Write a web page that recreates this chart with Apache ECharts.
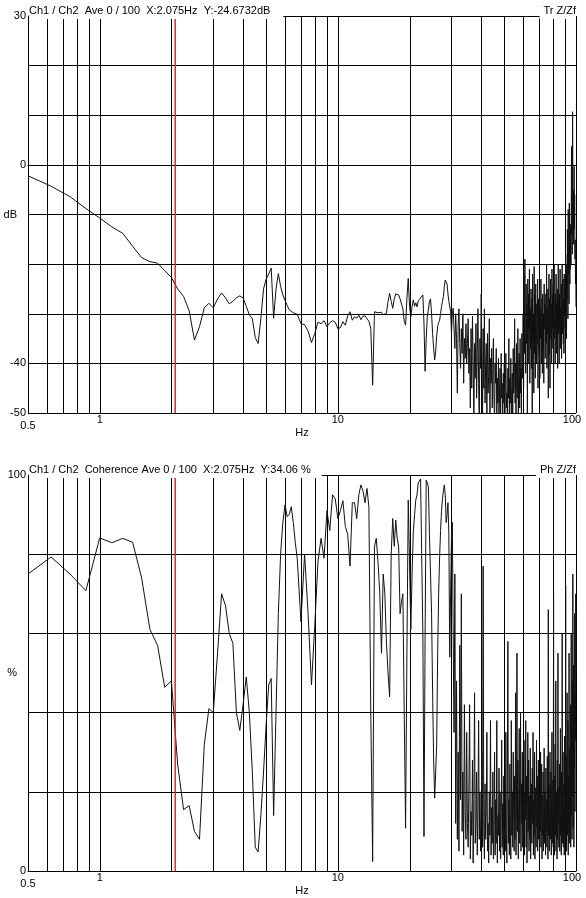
<!DOCTYPE html>
<html><head><meta charset="utf-8">
<script src="https://cdn.jsdelivr.net/npm/echarts@6/dist/echarts.min.js"></script>
<style>html,body{margin:0;padding:0;background:#fff}#c{width:586px;height:898px}</style>
</head><body><div id="c"></div>
<script>
// Frequencies (Hz)
const freqs = [
0.5,0.625,0.75,0.875,1,1.125,1.25,1.375,
1.5,1.625,1.75,1.875,2,2.125,2.25,2.375,
2.5,2.625,2.75,2.875,3,3.125,3.25,3.375,
3.5,3.625,3.75,3.875,4,4.125,4.25,4.375,
4.5,4.625,4.75,4.875,5,5.125,5.25,5.375,
5.5,5.625,5.75,5.875,6,6.125,6.25,6.375,
6.5,6.625,6.75,6.875,7,
7.25,7.5,7.75,8,8.25,8.5,8.75,9,9.25,9.5,9.75,10,
10.25,10.5,10.75,11,11.25,11.5,11.75,12,12.25,12.5,12.75,13,13.25,13.5,13.75,14,14.25,14.5,14.75,15,
15.25,15.5,15.75,16,16.25,16.5,16.75,17,17.25,17.5,17.75,18,18.25,18.5,18.75,19,19.25,19.5,19.75,20,
20.25,20.5,20.75,21,21.25,21.5,21.75,22,22.25,22.5,22.75,23,23.25,23.5,23.75,24,24.25,24.5,24.75,25,
25.25,25.5,25.75,26,26.25,26.5,26.75,27,27.25,27.5,27.75,28,28.25,28.5,28.75,29,29.25,29.5,29.75,30,
30.25,30.5,30.75,31,31.25,31.5,31.75,32,32.25,32.5,32.75,33,33.25,33.5,33.75,34,34.25,34.5,34.75,35,
35.25,35.5,35.75,36,36.25,36.5,36.75,37,37.25,37.5,37.75,38,38.25,38.5,38.75,39,39.25,39.5,39.75,40,
40.25,40.5,40.75,41,41.25,41.5,41.75,42,42.25,42.5,42.75,43,43.25,43.5,43.75,44,44.25,44.5,44.75,45,
45.25,45.5,45.75,46,46.25,46.5,46.75,47,47.25,47.5,47.75,48,48.25,48.5,48.75,49,49.25,49.5,49.75,50,
50.25,50.5,50.75,51,51.25,51.5,51.75,52,52.25,52.5,52.75,53,53.25,53.5,53.75,54,54.25,54.5,54.75,55,
55.25,55.5,55.75,56,56.25,56.5,56.75,57,57.25,57.5,57.75,58,58.25,58.5,58.75,59,59.25,59.5,59.75,60,
60.25,60.5,60.75,61,61.25,61.5,61.75,62,62.25,62.5,62.75,63,63.25,63.5,63.75,64,64.25,64.5,64.75,65,
65.25,65.5,65.75,66,66.25,66.5,66.75,67,67.25,67.5,67.75,68,68.25,68.5,68.75,69,69.25,69.5,69.75,70,
70.25,70.5,70.75,71,71.25,71.5,71.75,72,72.25,72.5,72.75,73,73.25,73.5,73.75,74,74.25,74.5,74.75,75,
75.25,75.5,75.75,76,76.25,76.5,76.75,77,77.25,77.5,77.75,78,78.25,78.5,78.75,79,79.25,79.5,79.75,80,
80.25,80.5,80.75,81,81.25,81.5,81.75,82,82.25,82.5,82.75,83,83.25,83.5,83.75,84,84.25,84.5,84.75,85,
85.25,85.5,85.75,86,86.25,86.5,86.75,87,87.25,87.5,87.75,88,88.25,88.5,88.75,89,89.25,89.5,89.75,90,
90.25,90.5,90.75,91,91.25,91.5,91.75,92,92.25,92.5,92.75,93,93.25,93.5,93.75,94,94.25,94.5,94.75,95,
95.25,95.5,95.75,96,96.25,96.5,96.75,97,97.25,97.5,97.75,98,98.25,98.5,98.75,99,99.25,99.5,99.75,100
];

// Transfer function magnitude (dB)
const transferDb = [
-2.2,-4.3,-6.4,-8.8,-10.7,-12.5,-13.8,-16.4,
-18.7,-19.5,-19.8,-21.3,-22.7,-25.0,-26.5,-29.4,
-35.3,-32.6,-28.8,-27.9,-28.8,-27.0,-25.8,-26.8,
-28.0,-27.5,-26.8,-26.4,-26.8,-28.5,-30.2,-31.0,
-34.8,-36.0,-31,-25.0,-23.0,-22.0,-20.8,-30.9,
-25,-21.9,-24.5,-26.2,-27.3,-28.3,-29.2,-29.5,
-29.8,-29.7,-30.1,-30.4,-32.0,
-32.2,-33.5,-35.8,-34.0,-31.7,-32.0,-31.4,-32.6,-31.8,-31.4,-31.7,-33.0,
-32.8,-31.6,-32.3,-30.4,-29.6,-31.3,-30.6,-30.9,-30.3,-31.2,-30.5,-30.4,-31.0,-31.5,-33,-44.4,-29.6,-30.0,-29.8,-29.6,
-29.7,-30.2,-29.8,-29.9,-27.5,-25.9,-27.5,-28.9,-27.0,-26.0,-25.8,-26.2,-27.0,-27.4,-29,-31.5,-32.3,-27,-22.9,-28.5,
-30.6,-28.5,-27.2,-28.5,-27.8,-28.6,-27.4,-27.8,-26.8,-26.5,-26.2,-32,-41.6,-35,-30.5,-29.2,-27.5,-27.0,-30,-34,
-37,-39.3,-37.5,-34.5,-32.5,-31.8,-31.3,-30,-28.5,-27.5,-26.5,-24.5,-23.2,-23.0,-24.0,-26.0,-27.5,-27.9,-29.5,-34,
-30,-28.9,-33,-37,-30,-35,-46,-32,-29,-36,-41,-33,-38,-30,-44,-35,-39,-32,-40,-36,
-31,-42,-37,-49,-33,-45,-30.5,-40,-52,-36,-43,-32,-47,-38,-29,-44,-52,-35,-41,-26,
-38,-52,-33,-45,-29,-48,-40,-36,-52,-34,-46,-42,-31,-52,-39,-44,-37,-49,-41,-35,
-47,-52,-40,-44,-37,-52,-43,-48,-39,-52,-45,-41,-52,-38,-47,-44,-52,-42,-48,-40,
-52,-44,-38,-49,-46,-52,-41,-47,-35,-52,-43,-48,-39,-52,-45,-42,-52,-37,-46,-44,
-31,-48,-40,-52,-36,-45,-47,-33,-52,-42,-38,-49,-35,-46,-41,-52,-34,-43,-39,-30,
-45,-22,-38,-19,-34,-42,-24,-36,-28,-52,-23,-40,-26,-33,-21,-44,-29,-37,-25,-41,
-27,-52,-22,-35,-30,-46,-20.5,-38,-26,-43,-24,-33,-40,-28,-36,-23,-45,-31,-27,-38,
-25,-43,-29,-35,-23,-40,-31,-27,-42,-26,-37,-30,-44,-24,-33,-28,-39,-32,-26,-36,
-20,-41,-29,-34,-25,-47,-31,-22,-38,-27,-45,-30,-23,-35,-28,-40,-21,-33,-26,-37,
-24,-42,-29,-20,-35,-31,-40,-26,-33,-22,-38,-28,-36,-25,-41,-30,-20,-34,-27,-40,
-26,-33,-21,-37,-29,-35,-24,-39,-28,-20,-34,-31,-23,-36,-27,-38,-22,-30,-25,-33,
-25,-18,-30,-22,-35,-20,-27,-13,-24,-31,-9,-22,-17,-28,-7.7,-19,-24,-15,-21,-12,
-20,-8,3.7,-14,-6,-18,10.7,-2,-12,-5,-16,-9,-0.3,-13,-6,-19,-15.1,-24,-20,-28.6
];

// Coherence (%)
const coherencePct = [
75,79.3,75,70.8,84.1,82.9,84,83,
74,61,57,46.4,48,27,15.5,16.5,
10,8,32,41,40,55,70,67,
60,57.5,40,35.5,42,49,40,25,
6,4.8,14,25,37,47,48.6,14,
40,65,80,88,92.4,89.5,90,92,
88,83,79,71,63,
80,65,47,62,78,84,79,91,86,95,94,89,
91,93.5,87,85,77,93,93,89,95,97.5,96,93,96.6,92,40,2.4,82,84,78,70,
55,75,70,57.5,50,44,80,89,82,88.6,84,82,65,68,70,40,10.8,55,93.7,78,
61,75,86,90,93.7,95,98,98,99,99.2,60,8.7,60,98.7,98,97,85,75,65,45,
28,18.4,25,32,55,70,79.4,86,91,94,96,97.5,95,88,90,93,85,54,70,84,
88,60,35,75,12,48,8,30,5,57,18,70,10,25,4,42,15,8,35,12,
6,22,42,3,15,9,28,2,18,45,7,12,25,4,16,38,8,20,5,14,
30,6,77,10,3,22,8,15,35,5,12,2,20,9,38,4,16,7,25,3,
11,30,4,18,7,38,2,14,9,26,5,20,3,12,33,6,17,4,24,8,
15,5,35,10,2,22,58,7,18,4,27,11,3,38,9,20,6,30,13,5,
24,8,45,4,17,55,10,28,3,19,36,7,14,40,5,22,12,30,6,18,
9,33,4,20,13,38,6,24,2,16,35,10,28,5,19,8,31,3,14,22,
7,26,12,35,4,18,9,30,3,21,14,6,33,11,24,5,16,28,8,19,
4,23,10,30,6,15,27,3,19,9,25,5,14,31,7,20,12,4,26,10,
18,6,29,13,3,66,9,22,5,16,30,8,12,25,4,19,35,7,14,23,
6,70,11,24,4,17,32,9,48,5,20,13,3,28,8,55,12,21,6,15,
27,5,18,36,9,14,4,25,11,60,7,19,30,6,13,22,4,34,10,17,
8,72,13,29,5,20,45,9,16,38,4,24,12,55,7,31,10,18,42,6,
22,60,14,35,8,48,19,75,11,30,52,6,40,26,65,15,45,33,70,50
];

// Grid / cursor / labels
const gridFreqs = [0.6,0.7,0.8,0.9,1,2,3,4,5,6,7,8,9,10,20,30,40,50,60,70,80,90,100];
const cursorFreq = 2.075;
const xTickLabels = [0.5, 1, 10, 100];
const dbTickLabels = [30, 0, -40, -50];
const pctTickLabels = [100, 0];
const topTitle = 'Ch1 / Ch2  Ave 0 / 100  X:2.075Hz  Y:-24.6732dB';
const topRight = 'Tr Z/Zf';
const botTitle = 'Ch1 / Ch2  Coherence Ave 0 / 100  X:2.075Hz  Y:34.06 %';
const botRight = 'Ph Z/Zf';

const FONT = '"Liberation Sans", Arial, sans-serif';
const n = Math.min(freqs.length, transferDb.length, coherencePct.length);
const dbData = [], cohData = [];
for (let i = 0; i < n; i++) { dbData.push([freqs[i], transferDb[i]]); cohData.push([freqs[i], coherencePct[i]]); }

function vRender(color, width, crisp) {
  return function (params, api) {
    const cs = params.coordSys;
    let x = api.coord([api.value(0), api.value(1)])[0];
    if (crisp) x = Math.round(x) + 0.5;
    return { type: 'line', shape: { x1: x, y1: cs.y, x2: x, y2: cs.y + cs.height },
      style: { stroke: color, lineWidth: width } };
  };
}

function xAxis(idx) {
  return {
    type: 'log', logBase: 10, min: 0.5, max: 100, gridIndex: idx,
    axisLine: { show: true, lineStyle: { color: '#000', width: 1 } },
    axisTick: { show: false }, splitLine: { show: false },
    axisLabel: {
      margin: 1, color: '#000', fontSize: 11, fontFamily: FONT, showMinLabel: true, showMaxLabel: true,
      hideOverlap: false,
      formatter: function (v) {
        const r = Math.round(v * 1000) / 1000;
        if (!xTickLabels.includes(r)) return '';
        if (r === 0.5) return '{lo|0.5}';
        if (r === 100) return '{hi|100}';
        return String(r);
      },
      rich: {
        lo: { fontSize: 11, fontFamily: FONT, color: '#000', padding: [6, 0, 0, 0] },
        hi: { fontSize: 11, fontFamily: FONT, color: '#000', padding: [0, 8, 0, 0] }
      }
    },
    name: 'Hz', nameLocation: 'middle', nameGap: 14, nameMoveOverlap: false,
    nameTextStyle: { fontSize: 11, fontFamily: FONT, color: '#000' }
  };
}

function yAxis(idx, min, max, interval, labels, name) {
  return {
    type: 'value', gridIndex: idx, min: min, max: max, interval: interval,
    axisLine: { show: true, lineStyle: { color: '#000', width: 1 } },
    axisTick: { show: false },
    splitLine: { show: true, showMinLine: true, showMaxLine: true, lineStyle: { color: '#000', width: 1 } },
    axisLabel: { margin: 2, color: '#000', fontSize: 11, fontFamily: FONT, showMinLabel: true, showMaxLabel: true,
      formatter: v => labels.includes(v) ? String(v) : '' },
    name: name, nameLocation: 'middle', nameRotate: 0, nameGap: 11, nameMoveOverlap: false,
    nameTextStyle: { fontSize: 11, fontFamily: FONT, color: '#000', align: 'right', verticalAlign: 'middle' }
  };
}

const titleText = { fontSize: 11, fontWeight: 'normal', color: '#000', fontFamily: FONT, lineHeight: 13 };

const chart = echarts.init(document.getElementById('c'), null, { renderer: 'canvas' });
chart.setOption({
  animation: false,
  backgroundColor: '#fff',
  title: [
    { text: topTitle, left: 29, top: 3, padding: [1, 13, 2, 0], backgroundColor: '#fff', textStyle: titleText },
    { text: topRight, right: 10, top: 3, padding: [1, 0, 2, 4], backgroundColor: '#fff', textStyle: titleText },
    { text: botTitle, left: 29, top: 462, padding: [1, 11, 2, 0], backgroundColor: '#fff', textStyle: titleText },
    { text: botRight, right: 10, top: 462, padding: [1, 0, 2, 4], backgroundColor: '#fff', textStyle: titleText }
  ],
  grid: [
    { left: 28, top: 16, width: 548, height: 397, containLabel: false, outerBoundsMode: 'none' },
    { left: 28, top: 475, width: 548, height: 396, containLabel: false, outerBoundsMode: 'none' }
  ],
  xAxis: [xAxis(0), xAxis(1)],
  yAxis: [
    yAxis(0, -50, 30, 10, dbTickLabels, 'dB'),
    yAxis(1, 0, 100, 20, pctTickLabels, '%')
  ],
  series: [
    { type: 'custom', xAxisIndex: 0, yAxisIndex: 0, z: 1, silent: true,
      data: gridFreqs.map(f => [f, -50]), renderItem: vRender('#000', 1, true) },
    { type: 'custom', xAxisIndex: 1, yAxisIndex: 1, z: 1, silent: true,
      data: gridFreqs.map(f => [f, 0]), renderItem: vRender('#000', 1, true) },
    { type: 'line', xAxisIndex: 0, yAxisIndex: 0, z: 3, data: dbData, showSymbol: false, symbol: 'none',
      clip: true, lineStyle: { color: '#111', width: 1 } },
    { type: 'line', xAxisIndex: 1, yAxisIndex: 1, z: 3, data: cohData, showSymbol: false, symbol: 'none',
      clip: true, lineStyle: { color: '#111', width: 1 } },
    { type: 'custom', xAxisIndex: 0, yAxisIndex: 0, z: 4, silent: true,
      data: [[cursorFreq, -50]], renderItem: vRender('#d42020', 1.4, false) },
    { type: 'custom', xAxisIndex: 1, yAxisIndex: 1, z: 4, silent: true,
      data: [[cursorFreq, 0]], renderItem: vRender('#d42020', 1.4, false) }
  ]
});
</script></body></html>
